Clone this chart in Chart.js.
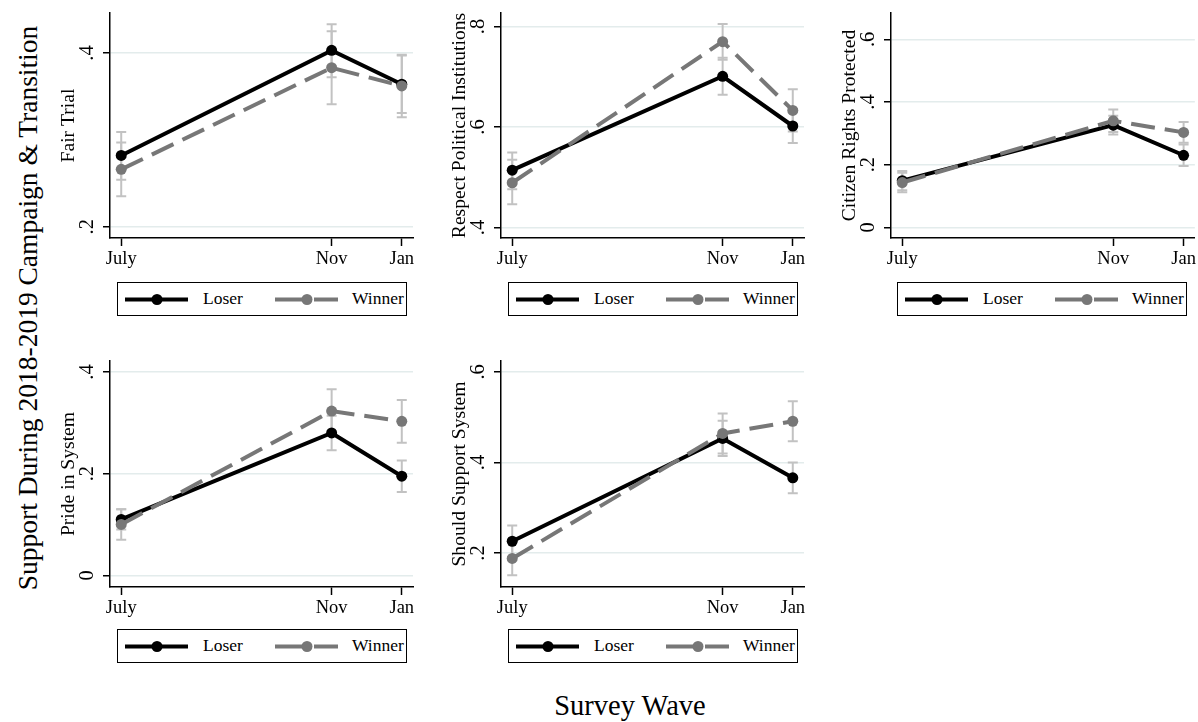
<!DOCTYPE html>
<html>
<head>
<meta charset="utf-8">
<script src="https://cdn.jsdelivr.net/npm/chart.js@4.4.1/dist/chart.umd.min.js"></script>
<style>
  body { margin: 0; background: #fff; width: 1198px; height: 722px; position: relative; overflow: hidden;
         font-family: 'Liberation Serif', 'Times New Roman', serif; }
  canvas { position: absolute; }
  .legend { position: absolute; width: 290px; height: 34px; border: 1px solid #000; box-sizing: border-box; background: #fff; }
  .legend svg { position: absolute; left: 0; top: 0; }
  .legend span { position: absolute; top: 50%; transform: translateY(-50%); font-size: 17.5px; line-height: 1; color: #000; }
  .big { position: absolute; font-size: 27.5px; line-height: 1; white-space: nowrap; color: #000; }
</style>
</head>
<body>
<div class="big" style="left:28px; top:308px; transform: translate(-50%, -50%) rotate(-90deg);">Support During 2018-2019 Campaign &amp; Transition</div>
<div class="big" style="left:630px; top:706px; font-size:28.5px; transform: translate(-50%, -50%);">Survey Wave</div>

<script>
// survey waves and where they fall on the time axis
const waves = ['July', 'Nov', 'Jan'];
const waveX = [0, 3, 4];
const seriesNames = ['Loser', 'Winner'];

// Fair Trial
const fairLoser = [0.282, 0.403, 0.364];
const fairLoserLo = [0.254, 0.372, 0.331];
const fairLoserHi = [0.309, 0.433, 0.397];
const fairWinner = [0.266, 0.383, 0.362];
const fairWinnerLo = [0.235, 0.341, 0.326];
const fairWinnerHi = [0.297, 0.425, 0.398];
const fairTicks = [0.2, 0.4];

// Respect Political Institutions
const respectLoser = [0.514, 0.701, 0.602];
const respectLoserLo = [0.476, 0.664, 0.568];
const respectLoserHi = [0.549, 0.738, 0.636];
const respectWinner = [0.489, 0.770, 0.633];
const respectWinnerLo = [0.446, 0.734, 0.591];
const respectWinnerHi = [0.535, 0.805, 0.675];
const respectTicks = [0.4, 0.6, 0.8];

// Citizen Rights Protected
const rightsLoser = [0.149, 0.326, 0.230];
const rightsLoserLo = [0.118, 0.296, 0.196];
const rightsLoserHi = [0.180, 0.356, 0.264];
const rightsWinner = [0.143, 0.340, 0.303];
const rightsWinnerLo = [0.112, 0.304, 0.270];
const rightsWinnerHi = [0.174, 0.376, 0.336];
const rightsTicks = [0, 0.2, 0.4, 0.6];

// Pride in System
const prideLoser = [0.110, 0.280, 0.195];
const prideLoserLo = [0.090, 0.246, 0.164];
const prideLoserHi = [0.130, 0.314, 0.226];
const prideWinner = [0.100, 0.323, 0.303];
const prideWinnerLo = [0.070, 0.280, 0.261];
const prideWinnerHi = [0.130, 0.366, 0.345];
const prideTicks = [0, 0.2, 0.4];

// Should Support System
const supportLoser = [0.226, 0.453, 0.366];
const supportLoserLo = [0.191, 0.414, 0.332];
const supportLoserHi = [0.261, 0.492, 0.400];
const supportWinner = [0.188, 0.464, 0.491];
const supportWinnerLo = [0.151, 0.420, 0.447];
const supportWinnerHi = [0.225, 0.508, 0.535];
const supportTicks = [0.2, 0.4, 0.6];

const panels = [
    { title: 'Fair Trial', loser: [fairLoser, fairLoserLo, fairLoserHi], winner: [fairWinner, fairWinnerLo, fairWinnerHi], ticks: fairTicks,
      box: { left: 50, top: 0, w: 370, h: 270, axisW: 60, padTop: 13, padRight: 7, yMin: 0.187, yMax: 0.446 }, legend: { left: 117, top: 282 } },
    { title: 'Respect Political Institutions', loser: [respectLoser, respectLoserLo, respectLoserHi], winner: [respectWinner, respectWinnerLo, respectWinnerHi], ticks: respectTicks,
      box: { left: 440, top: 0, w: 370, h: 270, axisW: 61, padTop: 13, padRight: 6, yMin: 0.379, yMax: 0.827 }, legend: { left: 508, top: 282 } },
    { title: 'Citizen Rights Protected', loser: [rightsLoser, rightsLoserLo, rightsLoserHi], winner: [rightsWinner, rightsWinnerLo, rightsWinnerHi], ticks: rightsTicks,
      box: { left: 830, top: 0, w: 368, h: 270, axisW: 61, padTop: 13, padRight: 2, yMin: -0.034, yMax: 0.684 }, legend: { left: 897, top: 282 } },
    { title: 'Pride in System', loser: [prideLoser, prideLoserLo, prideLoserHi], winner: [prideWinner, prideWinnerLo, prideWinnerHi], ticks: prideTicks,
      box: { left: 50, top: 340, w: 370, h: 279, axisW: 60, padTop: 21, padRight: 7, yMin: -0.023, yMax: 0.4216 }, legend: { left: 117, top: 629 } },
    { title: 'Should Support System', loser: [supportLoser, supportLoserLo, supportLoserHi], winner: [supportWinner, supportWinnerLo, supportWinnerHi], ticks: supportTicks,
      box: { left: 440, top: 340, w: 370, h: 279, axisW: 61, padTop: 21, padRight: 6, yMin: 0.125, yMax: 0.624 }, legend: { left: 508, top: 629 } },
];

const LOSER_COLOR = '#000000';
const WINNER_COLOR = '#777777';
const CI_COLOR = '#c2c2c2';
const SERIF = "'Liberation Serif', 'Times New Roman', serif";

function fmtTick(v) {
    if (v === 0) return '0';
    return v.toFixed(1).replace(/^0/, '');
}

// confidence interval whiskers, drawn behind the lines
const errorBars = {
    id: 'errorBars',
    beforeDatasetsDraw(chart) {
        const { ctx, scales: { x, y } } = chart;
        ctx.save();
        ctx.strokeStyle = CI_COLOR;
        ctx.lineWidth = 2;
        chart.data.datasets.forEach((ds) => {
            ds.lo.forEach((lo, i) => {
                const px = x.getPixelForValue(waveX[i]);
                const y1 = y.getPixelForValue(lo);
                const y2 = y.getPixelForValue(ds.hi[i]);
                ctx.beginPath();
                ctx.moveTo(px, y1); ctx.lineTo(px, y2);
                ctx.moveTo(px - 5, y1); ctx.lineTo(px + 5, y1);
                ctx.moveTo(px - 5, y2); ctx.lineTo(px + 5, y2);
                ctx.stroke();
            });
        });
        ctx.restore();
    },
};

// Stata style rotated y tick labels and axis title
const yLabels = {
    id: 'yLabels',
    afterDraw(chart, args, opts) {
        const { ctx, chartArea, scales: { y } } = chart;
        ctx.save();
        ctx.fillStyle = '#000';
        ctx.textAlign = 'center';
        ctx.textBaseline = 'alphabetic';
        ctx.font = `20.5px ${SERIF}`;
        y.ticks.forEach((t) => {
            ctx.save();
            ctx.translate(chartArea.left - 17, y.getPixelForValue(t.value));
            ctx.rotate(-Math.PI / 2);
            ctx.fillText(fmtTick(t.value), 0, 0);
            ctx.restore();
        });
        ctx.font = `19.6px ${SERIF}`;
        ctx.translate(chartArea.left - 36, (chartArea.top + chartArea.bottom) / 2);
        ctx.rotate(-Math.PI / 2);
        ctx.fillText(opts.title, 0, 0);
        ctx.restore();
    },
};

function series(label, arrs, color, dash, order) {
    return {
        label,
        data: waveX.map((x, i) => ({ x, y: arrs[0][i] })),
        lo: arrs[1],
        hi: arrs[2],
        borderColor: color,
        backgroundColor: color,
        pointBackgroundColor: color,
        pointBorderWidth: 0,
        pointRadius: 5.5,
        borderWidth: 4,
        borderDash: dash,
        tension: 0,
        fill: false,
        order,
    };
}

function makeLegend(pos) {
    const div = document.createElement('div');
    div.className = 'legend';
    div.style.left = pos.left + 'px';
    div.style.top = pos.top + 'px';
    div.innerHTML =
        '<svg width="290" height="34">' +
        `<line x1="7" y1="16.5" x2="70" y2="16.5" stroke="${LOSER_COLOR}" stroke-width="4"/>` +
        `<circle cx="39" cy="16.5" r="5.5" fill="${LOSER_COLOR}"/>` +
        `<line x1="157" y1="16.5" x2="192" y2="16.5" stroke="${WINNER_COLOR}" stroke-width="4"/>` +
        `<line x1="196" y1="16.5" x2="220" y2="16.5" stroke="${WINNER_COLOR}" stroke-width="4"/>` +
        `<circle cx="189" cy="16.5" r="5.5" fill="${WINNER_COLOR}"/>` +
        '</svg>' +
        `<span style="left:85px">${seriesNames[0]}</span>` +
        `<span style="left:234px">${seriesNames[1]}</span>`;
    document.body.appendChild(div);
}

panels.forEach((p) => {
    const b = p.box;
    const canvas = document.createElement('canvas');
    canvas.width = b.w;
    canvas.height = b.h;
    canvas.style.left = b.left + 'px';
    canvas.style.top = b.top + 'px';
    document.body.appendChild(canvas);

    new Chart(canvas, {
        type: 'line',
        data: {
            datasets: [
                series(seriesNames[0], p.loser, LOSER_COLOR, [], 2),
                series(seriesNames[1], p.winner, WINNER_COLOR, [24, 10], 1),
            ],
        },
        options: {
            responsive: false,
            animation: false,
            events: [],
            layout: { padding: { top: b.padTop, right: b.padRight, left: 0, bottom: 0 }, autoPadding: false },
            plugins: {
                legend: { display: false },
                tooltip: { enabled: false },
                yLabels: { title: p.title },
            },
            scales: {
                x: {
                    type: 'linear',
                    min: -0.16,
                    max: 4.16,
                    afterBuildTicks: (s) => { s.ticks = waveX.map((v) => ({ value: v })); },
                    afterFit: (s) => { s.height = 32; },
                    grid: { drawOnChartArea: false, drawTicks: true, tickLength: 8, tickColor: '#000', tickWidth: 1.5 },
                    border: { color: '#000', width: 1.5 },
                    ticks: {
                        color: '#000',
                        font: { family: SERIF, size: 18.5 },
                        padding: 2,
                        maxRotation: 0,
                        autoSkip: false,
                        callback: (v) => waves[waveX.indexOf(v)],
                    },
                },
                y: {
                    min: b.yMin,
                    max: b.yMax,
                    afterBuildTicks: (s) => { s.ticks = p.ticks.map((v) => ({ value: v })); },
                    afterFit: (s) => { s.width = b.axisW; },
                    grid: { color: '#e3ecec', lineWidth: 1.5, tickLength: 7, tickColor: '#000', tickWidth: 1.5 },
                    border: { color: '#000', width: 1.5 },
                    ticks: { display: false },
                },
            },
        },
        plugins: [errorBars, yLabels],
    });

    makeLegend(p.legend);
});
</script>
</body>
</html>
